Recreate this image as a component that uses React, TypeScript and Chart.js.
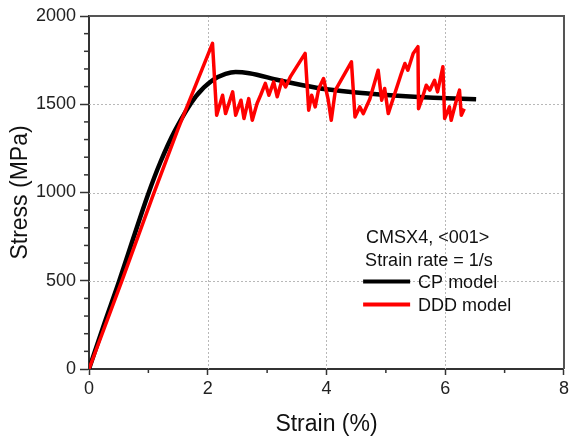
import React, { useEffect, useRef } from 'react';
import { Chart, registerables } from 'chart.js';

Chart.register(...registerables);

// ---- data ----
const cpStrain = [0, 0.25, 0.51, 0.75, 0.99, 1.2, 1.45, 1.8, 2.08, 2.3, 2.47, 2.7, 3.2, 3.6, 4.0, 4.7, 5.2, 5.8, 6.52];
const cpStress = [0, 250, 500, 745, 985, 1170, 1352, 1545, 1636, 1672, 1683, 1676, 1636, 1608, 1585, 1561, 1548, 1537, 1528];

const dddStrain = [
  0, 0.56, 1.08, 1.50, 2.08, 2.15, 2.25, 2.30, 2.42, 2.47, 2.56, 2.61, 2.69, 2.75, 2.83, 2.89, 2.97, 3.03,
  3.11, 3.17, 3.25, 3.31, 3.39, 3.64, 3.70, 3.75, 3.81, 3.87, 3.95, 4.03, 4.08, 4.15, 4.42, 4.48, 4.56,
  4.62, 4.73, 4.87, 4.93, 4.98, 5.04, 5.26, 5.32, 5.37, 5.46, 5.54, 5.55, 5.62, 5.68, 5.74, 5.82, 5.87,
  5.96, 5.99, 6.07, 6.10, 6.18, 6.24, 6.27, 6.32,
];
const dddStress = [
  0, 505, 985, 1360, 1845, 1438, 1551, 1447, 1570, 1438, 1523, 1419, 1532, 1409, 1504, 1551, 1618, 1551,
  1627, 1542, 1636, 1598, 1655, 1788, 1466, 1551, 1485, 1589, 1646, 1523, 1409, 1580, 1740, 1428, 1485,
  1447, 1530, 1693, 1523, 1589, 1447, 1674, 1731, 1693, 1788, 1826, 1475, 1542, 1608, 1580, 1636, 1570,
  1712, 1419, 1485, 1409, 1513, 1580, 1438, 1475,
];

const xMajorTicks = [0, 2, 4, 6, 8];
const xMinorTicks = [1, 3, 5, 7];
const yMajorTicks = [0, 500, 1000, 1500, 2000];
const yMinorTicks = [100, 200, 300, 400, 600, 700, 800, 900, 1100, 1200, 1300, 1400, 1600, 1700, 1800, 1900];

const legendHeader = ['CMSX4, <001>', 'Strain rate = 1/s'];
const seriesNames = ['CP model', 'DDD model'];
const seriesColors = ['#000000', '#ff0000'];
const xTitle = 'Strain (%)';
const yTitle = 'Stress (MPa)';

const FONT = "'Liberation Sans', Arial, sans-serif";

const decorPlugin = {
  id: 'decor',
  beforeDatasetsDraw(chart: any) {
    const { ctx, chartArea, scales } = chart;
    const { left, right, top, bottom } = chartArea;
    const x = scales.x;
    const y = scales.y;
    ctx.save();
    ctx.strokeStyle = '#b8b8b8';
    ctx.lineWidth = 1;
    ctx.setLineDash([2, 2]);
    xMajorTicks.forEach((v) => {
      if (v <= x.min || v >= x.max) return;
      const px = Math.round(x.getPixelForValue(v)) + 0.5;
      ctx.beginPath();
      ctx.moveTo(px, top);
      ctx.lineTo(px, bottom);
      ctx.stroke();
    });
    yMajorTicks.forEach((v) => {
      if (v <= y.min || v >= y.max) return;
      const py = Math.round(y.getPixelForValue(v)) + 0.5;
      ctx.beginPath();
      ctx.moveTo(left, py);
      ctx.lineTo(right, py);
      ctx.stroke();
    });
    ctx.restore();
  },
  afterDraw(chart: any) {
    const { ctx, chartArea, scales } = chart;
    const { left, right, top, bottom } = chartArea;
    const x = scales.x;
    const y = scales.y;
    ctx.save();
    // frame
    ctx.strokeStyle = '#555555';
    ctx.lineWidth = 2;
    ctx.beginPath();
    ctx.moveTo(left, top);
    ctx.lineTo(right, top);
    ctx.lineTo(right, bottom);
    ctx.stroke();
    // minor ticks
    ctx.strokeStyle = '#333333';
    ctx.lineWidth = 1.5;
    xMinorTicks.forEach((v) => {
      const px = x.getPixelForValue(v);
      ctx.beginPath();
      ctx.moveTo(px, bottom);
      ctx.lineTo(px, bottom + 4);
      ctx.stroke();
    });
    yMinorTicks.forEach((v) => {
      const py = y.getPixelForValue(v);
      ctx.beginPath();
      ctx.moveTo(left, py);
      ctx.lineTo(left - 5, py);
      ctx.stroke();
    });
    // legend
    const lx = x.getPixelForValue(4.6) + 3;
    ctx.fillStyle = '#111111';
    ctx.font = `18px ${FONT}`;
    ctx.textBaseline = 'alphabetic';
    ctx.textAlign = 'left';
    ctx.fillText(legendHeader[0], lx + 1, 243);
    ctx.fillText(legendHeader[1], lx, 265.5);
    const rows = [288, 311];
    seriesNames.forEach((name, i) => {
      const base = rows[i];
      ctx.strokeStyle = seriesColors[i];
      ctx.lineWidth = 4;
      ctx.beginPath();
      ctx.moveTo(lx - 2, base - 6.5);
      ctx.lineTo(lx + 45, base - 6.5);
      ctx.stroke();
      ctx.fillStyle = '#111111';
      ctx.fillText(name, lx + 53, base);
    });
    ctx.restore();
  },
};

export default function App() {
  const ref = useRef<HTMLCanvasElement | null>(null);
  useEffect(() => {
    if (!ref.current) return;
    const chart = new Chart(ref.current, {
      type: 'line',
      data: {
        datasets: [
          {
            label: seriesNames[0],
            data: cpStrain.map((v, i) => ({ x: v, y: cpStress[i] })),
            borderColor: seriesColors[0],
            backgroundColor: seriesColors[0],
            borderWidth: 4.5,
            pointRadius: 0,
            cubicInterpolationMode: 'monotone',
            order: 2,
          },
          {
            label: seriesNames[1],
            data: dddStrain.map((v, i) => ({ x: v, y: dddStress[i] })),
            borderColor: seriesColors[1],
            backgroundColor: seriesColors[1],
            borderWidth: 3.5,
            pointRadius: 0,
            tension: 0,
            borderJoinStyle: 'round',
            order: 1,
          },
        ],
      },
      options: {
        animation: false,
        responsive: false,
        layout: { padding: { left: 0, top: 16, right: 5, bottom: 0 } },
        plugins: { legend: { display: false }, tooltip: { enabled: false } },
        scales: {
          x: {
            type: 'linear',
            min: 0,
            max: 8,
            afterFit: (s: any) => { s.height = 72; },
            afterBuildTicks: (s: any) => { s.ticks = xMajorTicks.map((v) => ({ value: v })); },
            ticks: {
              callback: (v: any) => String(v),
              font: { family: FONT, size: 18 },
              color: '#222222',
              padding: 3,
              maxRotation: 0,
            },
            grid: { drawOnChartArea: false, drawTicks: true, tickLength: 6, tickColor: '#333333', tickWidth: 1.5 },
            border: { display: true, color: '#333333', width: 2 },
            title: {
              display: true,
              text: xTitle,
              font: { family: FONT, size: 23, lineHeight: 1 },
              color: '#111111',
              padding: { top: 0, bottom: 4.5 },
            },
          },
          y: {
            type: 'linear',
            min: 0,
            max: 2000,
            afterFit: (s: any) => { s.width = 89; },
            afterBuildTicks: (s: any) => { s.ticks = yMajorTicks.map((v) => ({ value: v })); },
            ticks: {
              callback: (v: any) => String(v),
              font: { family: FONT, size: 18 },
              color: '#222222',
              padding: 4,
            },
            grid: { drawOnChartArea: false, drawTicks: true, tickLength: 9, tickColor: '#333333', tickWidth: 1.5 },
            border: { display: true, color: '#333333', width: 2 },
            title: {
              display: true,
              text: yTitle,
              font: { family: FONT, size: 23, lineHeight: 1 },
              color: '#111111',
              padding: { top: 9.5, bottom: 0 },
            },
          },
        },
      },
      plugins: [decorPlugin],
    } as any);
    return () => chart.destroy();
  }, []);
  return (
    <div style={{ position: 'absolute', left: 0, top: 0, width: 572, height: 441, background: '#fff' }}>
      <canvas ref={ref} width={572} height={441} />
    </div>
  );
}
